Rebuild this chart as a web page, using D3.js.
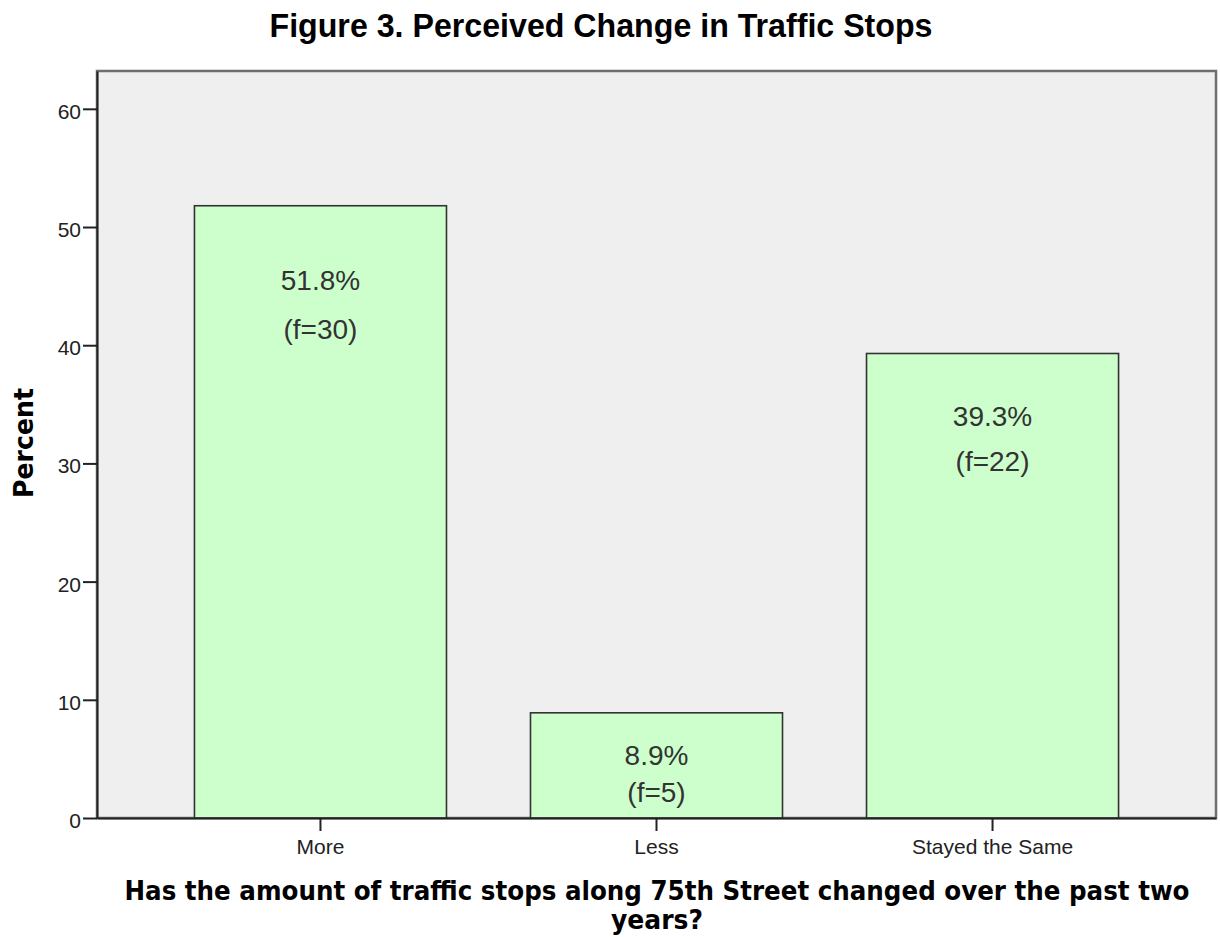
<!DOCTYPE html>
<html>
<head>
<meta charset="utf-8">
<script src="https://cdn.jsdelivr.net/npm/d3@7"></script>
<style>
  body { margin: 0; background: #fff; }
  svg text { font-family: "Liberation Sans", Arial, sans-serif; }
</style>
</head>
<body>
<script>
// Chart data
var categories = ["More", "Less", "Stayed the Same"];
var percents = [51.8, 8.9, 39.3];
var counts = [30, 5, 22];
var yTicks = [0, 10, 20, 30, 40, 50, 60];

var svgWidth = 1220;
var svgHeight = 937;

// plot frame
var frame = { left: 97, right: 1216, top: 71, bottom: 818 };

var svg = d3.select("body")
  .append("svg")
  .attr("width", svgWidth)
  .attr("height", svgHeight);

var data = categories.map(function(c, i) {
  return { cat: c, pct: percents[i], n: counts[i] };
});

var x = d3.scaleBand()
  .domain(categories)
  .range([frame.left, frame.right])
  .paddingInner(0.25)
  .paddingOuter(0.29);

var y = d3.scaleLinear()
  .domain([0, 63.2])
  .range([frame.bottom, frame.top]);

// background of plot area
svg.append("rect")
  .attr("x", frame.left)
  .attr("y", frame.top)
  .attr("width", frame.right - frame.left)
  .attr("height", frame.bottom - frame.top)
  .attr("fill", "#efefef")
  .attr("stroke", "#6e6e6e")
  .attr("stroke-width", 2.5);

// bars
svg.selectAll(".bar")
  .data(data)
  .enter()
  .append("rect")
  .attr("class", "bar")
  .attr("x", d => x(d.cat))
  .attr("y", d => y(d.pct))
  .attr("width", x.bandwidth())
  .attr("height", d => y(0) - y(d.pct))
  .attr("fill", "#ccffcc")
  .attr("stroke", "#333")
  .attr("stroke-width", 1.6);

// bar labels
function labelPos(d) {
  var top = y(d.pct);
  var h = y(0) - top;
  if (h < 150) {
    return { l1: top + h * 0.5, gap: 37 };
  }
  return { l1: top + 35 + 0.08 * h, gap: 35 + 0.023 * h };
}

var labels = svg.selectAll(".barlabel")
  .data(data)
  .enter()
  .append("g")
  .attr("class", "barlabel");

labels.append("text")
  .attr("x", d => x(d.cat) + x.bandwidth() / 2)
  .attr("y", d => labelPos(d).l1)
  .attr("text-anchor", "middle")
  .attr("font-size", 28)
  .attr("fill", "#333")
  .text(d => d.pct.toFixed(1) + "%");

labels.append("text")
  .attr("x", d => x(d.cat) + x.bandwidth() / 2)
  .attr("y", d => labelPos(d).l1 + labelPos(d).gap)
  .attr("text-anchor", "middle")
  .attr("font-size", 28)
  .attr("fill", "#333")
  .text(d => "(f=" + d.n + ")");

// y axis
var leftAxis = d3.axisLeft(y)
  .tickValues(yTicks)
  .tickSize(14)
  .tickSizeOuter(0)
  .tickPadding(2)
  .tickFormat(d3.format("d"));

var gy = svg.append("g")
  .attr("transform", "translate(" + frame.left + ",0)")
  .call(leftAxis);
gy.select(".domain").attr("stroke", "#222").attr("stroke-width", 2);
gy.selectAll(".tick line").attr("stroke", "#222").attr("stroke-width", 2);
gy.selectAll(".tick text")
  .attr("font-size", 21)
  .attr("font-family", "Liberation Sans, Arial, sans-serif")
  .attr("fill", "#222")
  .attr("dy", "0.45em");

// x axis
var bottomAxis = d3.axisBottom(x)
  .tickSize(13)
  .tickPadding(8)
  .tickSizeOuter(0);

var gx = svg.append("g")
  .attr("transform", "translate(0," + frame.bottom + ")")
  .call(bottomAxis);
gx.select(".domain").attr("stroke", "#222").attr("stroke-width", 2);
gx.selectAll(".tick line").attr("stroke", "#222").attr("stroke-width", 2);
gx.selectAll(".tick text")
  .attr("font-size", 21)
  .attr("font-family", "Liberation Sans, Arial, sans-serif")
  .attr("fill", "#222");

// title
svg.append("text")
  .attr("x", 601)
  .attr("y", 37)
  .attr("text-anchor", "middle")
  .attr("font-size", 33)
  .attr("font-weight", "bold")
  .attr("textLength", 663)
  .attr("lengthAdjust", "spacingAndGlyphs")
  .attr("fill", "#000")
  .text("Figure 3. Perceived Change in Traffic Stops");

// x axis title (two lines)
svg.append("text")
  .attr("x", 657)
  .attr("y", 900)
  .attr("text-anchor", "middle")
  .style("font-family", "'DejaVu Sans', Verdana, sans-serif")
  .attr("font-size", 26)
  .attr("font-weight", "bold")
  .attr("textLength", 1065)
  .attr("lengthAdjust", "spacingAndGlyphs")
  .text("Has the amount of traffic stops along 75th Street changed over the past two");

svg.append("text")
  .attr("x", 657)
  .attr("y", 929)
  .attr("text-anchor", "middle")
  .style("font-family", "'DejaVu Sans', Verdana, sans-serif")
  .attr("font-size", 26)
  .attr("font-weight", "bold")
  .attr("textLength", 92)
  .attr("lengthAdjust", "spacingAndGlyphs")
  .text("years?");

// y axis title
svg.append("text")
  .attr("transform", "translate(33,443) rotate(-90)")
  .attr("text-anchor", "middle")
  .style("font-family", "'DejaVu Sans', Verdana, sans-serif")
  .attr("font-size", 27)
  .attr("font-weight", "bold")
  .attr("textLength", 110)
  .attr("lengthAdjust", "spacingAndGlyphs")
  .text("Percent");
</script>
</body>
</html>
